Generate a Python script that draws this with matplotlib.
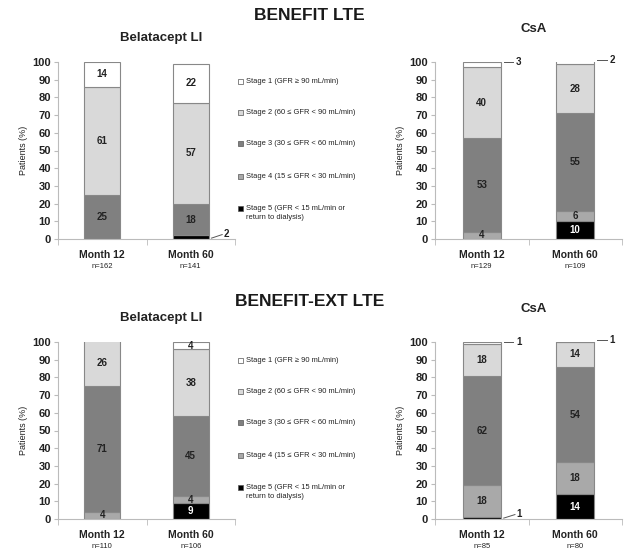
import numpy as np
import matplotlib
matplotlib.use("Agg")
import matplotlib.pyplot as plt

plt.rcParams['font.family'] = ['Liberation Sans', 'DejaVu Sans']

# stage percentages, bottom-up order: stage 5, 4, 3, 2, 1
months = ["Month 12", "Month 60"]
stages = ["Stage 5", "Stage 4", "Stage 3", "Stage 2", "Stage 1"]
legend_labels = [
    "Stage 1 (GFR \u2265 90 mL/min)",
    "Stage 2 (60 \u2264 GFR < 90 mL/min)",
    "Stage 3 (30 \u2264 GFR < 60 mL/min)",
    "Stage 4 (15 \u2264 GFR < 30 mL/min)",
    "Stage 5 (GFR < 15 mL/min or\nreturn to dialysis)",
]
colors = ["#000000", "#a9a9a9", "#808080", "#d9d9d9", "#ffffff"]

# BENEFIT LTE
lte_bela_m12 = [0, 0, 25, 61, 14]
lte_bela_m60 = [2, 0, 18, 57, 22]
lte_csa_m12 = [0, 4, 53, 40, 3]
lte_csa_m60 = [10, 6, 55, 28, 2]
lte_bela_n = ["n=162", "n=141"]
lte_csa_n = ["n=129", "n=109"]

# BENEFIT-EXT LTE
ext_bela_m12 = [0, 4, 71, 26, 0]
ext_bela_m60 = [9, 4, 45, 38, 4]
ext_csa_m12 = [1, 18, 62, 18, 1]
ext_csa_m60 = [14, 18, 54, 14, 1]
ext_bela_n = ["n=110", "n=106"]
ext_csa_n = ["n=85", "n=80"]

W, H = 625, 554
fig = plt.figure(figsize=(W / 100, H / 100), dpi=100)


def rect(l, t, r, b):
    return [l / W, 1 - b / H, (r - l) / W, (b - t) / H]


def panel(box, m12, m60, nlabels, title, title_y):
    ax = fig.add_axes(rect(*box))
    data = np.array([m12, m60])
    x = np.arange(2)
    bw = 0.41
    bottom = np.zeros(2)
    for i in range(len(stages)):
        vals = data[:, i]
        ax.bar(x, vals, bw, bottom=bottom, color=colors[i],
               edgecolor="#888888", linewidth=0.8, zorder=2)
        for j in range(2):
            v = vals[j]
            if v == 0:
                continue
            if v >= 4:
                ax.text(x[j], bottom[j] + v / 2, str(v), ha="center", va="center",
                        fontsize=7, color="white" if i == 0 else "#222222",
                        fontweight="bold")
            elif i == len(stages) - 1:
                ytop = bottom[j] + v
                ax.plot([x[j] + bw / 2 + 0.03, x[j] + bw / 2 + 0.13], [ytop, ytop],
                        color="#555555", lw=0.7, clip_on=False)
                ax.text(x[j] + bw / 2 + 0.16, ytop, str(v), ha="left", va="center",
                        fontsize=7, fontweight="bold", color="#222222")
            else:
                ax.plot([x[j] + bw / 2 + 0.03, x[j] + bw / 2 + 0.15], [0.5, 2.5],
                        color="#555555", lw=0.7, clip_on=False)
                ax.text(x[j] + bw / 2 + 0.17, 3, str(v), ha="left", va="center",
                        fontsize=7, fontweight="bold", color="#222222")
        bottom += vals
    ax.set_xlim(-0.5, 1.5)
    ax.set_ylim(0, 100)
    ax.set_yticks(np.arange(0, 101, 10))
    ax.tick_params(axis="y", labelsize=8, length=3, color="#bbbbbb", pad=2)
    for lab in ax.get_yticklabels():
        lab.set_fontweight("bold")
        lab.set_color("#222222")
    ax.set_xticks(x)
    ax.set_xticklabels([])
    ax.set_xticks([-0.5, 0.5, 1.5], minor=True)
    ax.tick_params(axis="x", which="major", length=0)
    ax.tick_params(axis="x", which="minor", length=4, color="#bbbbbb")
    for j in range(2):
        ax.text(x[j], -6, months[j], ha="center", va="top", fontsize=7.5,
                fontweight="bold", color="#222222", clip_on=False)
        ax.text(x[j], -13.5, nlabels[j], ha="center", va="top", fontsize=5.5,
                color="#222222", clip_on=False)
    for s in ["top", "right"]:
        ax.spines[s].set_visible(False)
    for s in ["left", "bottom"]:
        ax.spines[s].set_color("#bbbbbb")
        ax.spines[s].set_linewidth(0.8)
    ax.set_ylabel("Patients (%)", fontsize=6.5, color="#222222", labelpad=3)
    cx = (box[0] + box[2]) / 2
    fig.text((cx + (15 if "Bel" in title else 5)) / W, 1 - title_y / H, title,
             ha="center", va="center", fontsize=9.5, fontweight="bold", color="#222222")
    return ax


def legend(top_y):
    ys = [0, 31, 62, 95, 127]
    for k, lab in enumerate(legend_labels):
        y = top_y + ys[k]
        fig.patches.append(plt.Rectangle((238 / W, 1 - (y + 3) / H), 5 / W, 5 / H,
                                         transform=fig.transFigure,
                                         facecolor=colors[len(colors) - 1 - k],
                                         edgecolor="#555555", linewidth=0.5))
        fig.text(246 / W, 1 - (y - 3) / H, lab, ha="left", va="top",
                 fontsize=5.4, color="#222222", linespacing=1.5)


panel((58, 62, 235, 239), lte_bela_m12, lte_bela_m60, lte_bela_n, "Belatacept LI", 38)
panel((435, 62, 622, 239), lte_csa_m12, lte_csa_m60, lte_csa_n, "CsA", 29)
panel((58, 342, 235, 519), ext_bela_m12, ext_bela_m60, ext_bela_n, "Belatacept LI", 318)
panel((435, 342, 622, 519), ext_csa_m12, ext_csa_m60, ext_csa_n, "CsA", 309)

legend(81)
legend(360)

fig.text(309 / W, 1 - 16 / H, "BENEFIT LTE", ha="center", va="center",
         fontsize=12.5, fontweight="bold", color="#1a1a1a")
fig.text(310 / W, 1 - 302 / H, "BENEFIT-EXT LTE", ha="center", va="center",
         fontsize=12.5, fontweight="bold", color="#1a1a1a")

fig.savefig("out.png", dpi=100)
